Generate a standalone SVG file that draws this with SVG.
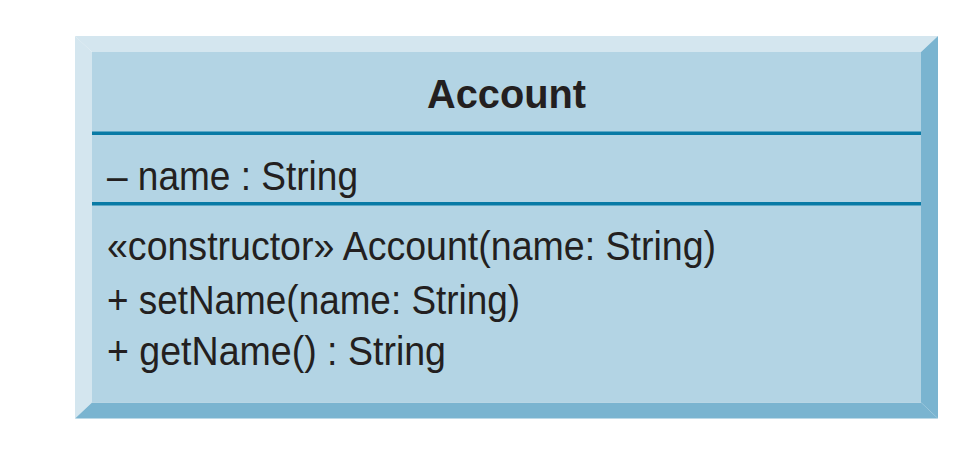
<svg xmlns="http://www.w3.org/2000/svg" width="971" height="451" viewBox="0 0 971 451">
<style>
.light{fill:#d4e6ef}
.dark{fill:#7ab4d0}
.face{fill:#b3d4e4}
.sep{stroke:#087aa5;stroke-width:3.5}
.t{font-family:"Liberation Sans",Arial,sans-serif;font-size:40px;fill:#231f20}
.title{font-family:"Liberation Sans",Arial,sans-serif;font-size:40px;font-weight:bold;fill:#231f20}
</style>
<rect width="971" height="451" fill="#ffffff"/>
<g id="Account">
<polygon class="light" points="75,36 938,36 921,52 92,52"/>
<polygon class="light" points="75,36 92,52 92,402.5 75,418.5"/>
<polygon class="dark" points="938,36 938,418.5 921,402.5 921,52"/>
<polygon class="dark" points="75,418.5 92,402.5 921,402.5 938,418.5"/>
<rect class="face" x="92" y="52" width="829" height="350.5"/>
<line class="sep" x1="92" y1="133.2" x2="921" y2="133.2"/>
<line class="sep" x1="92" y1="203.8" x2="921" y2="203.8"/>
<text class="title" x="427" y="108" textLength="159" lengthAdjust="spacingAndGlyphs">Account</text>
<text class="t" x="107" y="190" textLength="251" lengthAdjust="spacingAndGlyphs">– name : String</text>
<text class="t" x="107" y="260" textLength="609" lengthAdjust="spacingAndGlyphs">«constructor» Account(name: String)</text>
<text class="t" x="107" y="314" textLength="413" lengthAdjust="spacingAndGlyphs">+ setName(name: String)</text>
<text class="t" x="107" y="365" textLength="339" lengthAdjust="spacingAndGlyphs">+ getName() : String</text>
</g>
<g id="connectors"/>
</svg>
